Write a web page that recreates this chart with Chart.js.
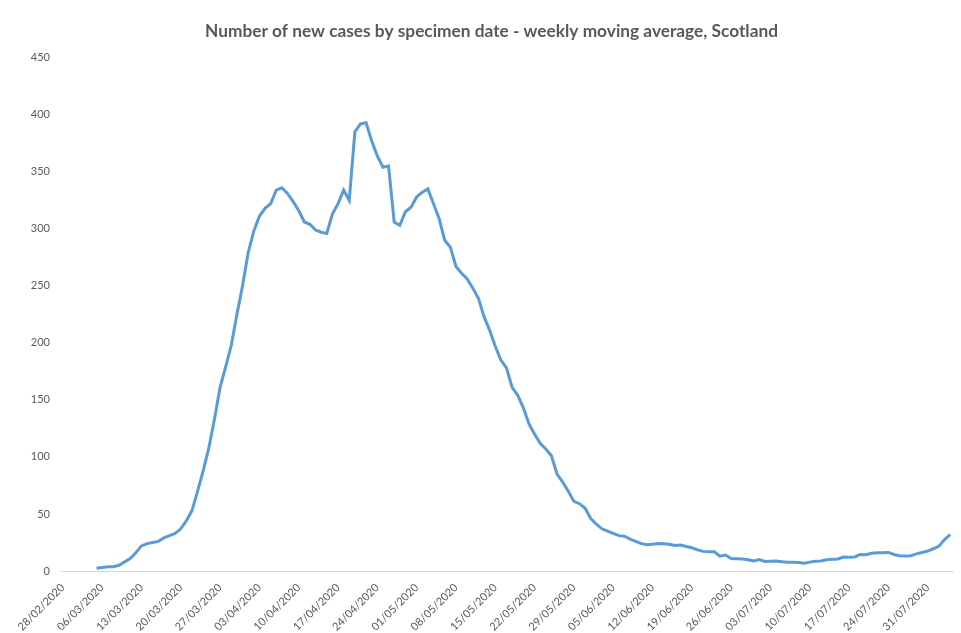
<!DOCTYPE html>
<html>
<head>
<meta charset="utf-8">
<script src="https://cdn.jsdelivr.net/npm/chart.js@4"></script>
<style>
    html, body { margin: 0; padding: 0; background: #ffffff; }
    #wrap { width: 961px; height: 633px; }
</style>
</head>
<body>
<div id="wrap"><canvas id="casesChart" width="961" height="633"></canvas></div>
<script>
// first day on the axis and number of days shown
const startDate = new Date(2020, 1, 28);
const dayCount = 159;

// days before the first average is available
const leadingGaps = 6;

// weekly moving average of new cases, from 05/03/2020 to 04/08/2020
const movingAverage = [
    2.4, 3, 3.7, 3.8, 5, 8, 11, 16, 22, 24, 25, 26, 29, 31,
    33, 37, 44, 53, 70, 88, 108, 133, 161, 179, 198, 225, 250, 279,
    298, 311, 318, 322, 334, 336, 331, 324, 316, 306, 304, 299, 297, 296,
    313, 322, 334, 325, 385, 392, 393, 377, 364, 354, 355, 306, 303, 315,
    319, 328, 332, 335, 322, 309, 290, 284, 267, 261, 256, 248, 239, 223,
    211, 197, 185, 178, 161, 154, 143, 129, 120, 112, 107, 101, 85, 78,
    70, 61, 59, 55, 46, 41, 37, 35, 33, 31, 30.5, 28, 26, 24,
    23, 23.5, 24, 23.8, 23.5, 22.3, 22.8, 21.5, 20.4, 18.5, 17.2, 16.9, 16.9, 13,
    14, 11, 10.8, 10.5, 9.8, 8.8, 10, 8.3, 8.6, 8.8, 8.2, 7.6, 7.6, 7.4,
    6.8, 7.8, 8.6, 8.8, 9.8, 10.3, 10.5, 12.3, 12, 12.3, 14.5, 14.2, 15.6, 16,
    16, 16.3, 14.5, 13.3, 13.1, 13.4, 15, 16.2, 17.5, 19.5, 21.8, 27.5, 32
];

function pad2(n) {
    return n < 10 ? '0' + n : '' + n;
}

// dd/mm/yyyy labels for every day
function buildDateLabels() {
    let labels = [];
    for (let i = 0; i < dayCount; i++) {
        let d = new Date(startDate.getFullYear(), startDate.getMonth(), startDate.getDate() + i);
        labels.push(pad2(d.getDate()) + '/' + pad2(d.getMonth() + 1) + '/' + d.getFullYear());
    }
    return labels;
}

const labels = buildDateLabels();
const seriesData = new Array(leadingGaps).fill(null).concat(movingAverage);

const textColor = '#595959';
const fontFamily = "Lato, 'Open Sans', 'Liberation Sans', sans-serif";

// nudge the title a little to the right, like the original
const titleShift = {
    id: 'titleShift',
    afterLayout(chart) {
        if (chart.titleBlock) {
            chart.titleBlock.left += 30;
        }
    }
};

const config = {
    type: 'line',
    data: {
        labels: labels,
        datasets: [{
            label: 'Weekly moving average',
            data: seriesData,
            borderColor: '#5b9bd5',
            backgroundColor: '#5b9bd5',
            borderWidth: 3,
            pointRadius: 0,
            tension: 0,
            spanGaps: false,
        }],
    },
    options: {
        responsive: false,
        animation: false,
        layout: {
            padding: { left: 0, right: 8, top: 0, bottom: 0 }
        },
        plugins: {
            legend: { display: false },
            tooltip: { enabled: false },
            title: {
                display: true,
                text: 'Number of new cases by specimen date - weekly moving average, Scotland',
                color: textColor,
                font: { family: fontFamily, size: 17.3, weight: 'bold' },
                padding: { top: 21, bottom: 16 },
            },
        },
        scales: {
            x: {
                offset: true,
                grid: { display: false },
                border: { display: true, color: '#d9d9d9', width: 1 },
                ticks: {
                    autoSkip: false,
                    maxRotation: 45,
                    minRotation: 45,
                    color: textColor,
                    font: { family: fontFamily, size: 11 },
                    padding: 2,
                    callback: function (value, index) {
                        return index % 7 === 0 ? labels[index] : null;
                    },
                },
                afterFit: function (scale) {
                    scale.height = 62;
                },
            },
            y: {
                min: 0,
                max: 450,
                grid: { display: false, drawTicks: false },
                border: { display: false },
                ticks: {
                    stepSize: 50,
                    color: textColor,
                    font: { family: fontFamily, size: 11 },
                    padding: 10,
                },
                afterFit: function (scale) {
                    scale.width = 60;
                },
            },
        },
    },
    plugins: [titleShift],
};

document.addEventListener('DOMContentLoaded', function () {
    new Chart(document.getElementById('casesChart'), config);
});
</script>
</body>
</html>
